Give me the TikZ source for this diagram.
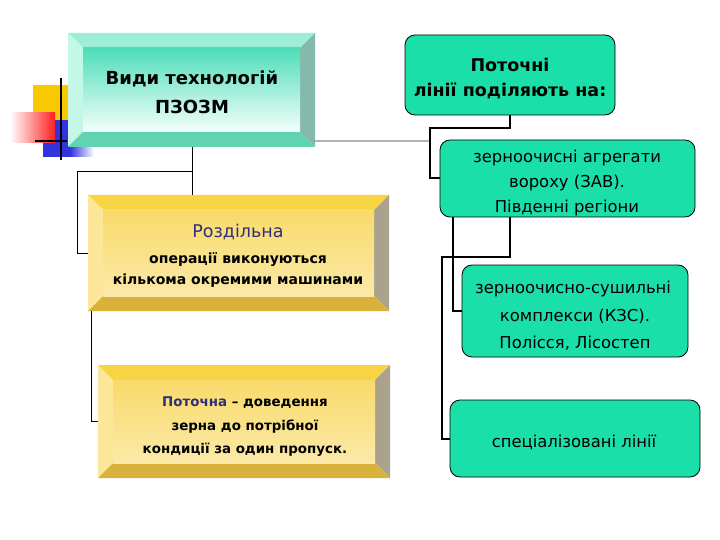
\documentclass[tikz,border=0pt]{standalone}
\usepackage{fontspec}
\setmainfont{DejaVu Sans}
\definecolor{gfill}{HTML}{1ADFA8}
\definecolor{navy}{HTML}{2E2E7A}
\definecolor{tlTop}{HTML}{9CEFD6}
\definecolor{tlLeft}{HTML}{C4F7E8}
\definecolor{tlRight}{HTML}{86B9AB}
\definecolor{tlBot}{HTML}{62D3B2}
\definecolor{tlFaceA}{HTML}{4EDDB9}
\definecolor{tlFaceM}{HTML}{D8F8EE}
\definecolor{tlFaceB}{HTML}{F4FFFB}
\definecolor{ylTop}{HTML}{F7D444}
\definecolor{ylLeft}{HTML}{FCE69A}
\definecolor{ylRight}{HTML}{ABA28E}
\definecolor{ylBot}{HTML}{D9B23C}
\definecolor{ylFaceA}{HTML}{F8DA6A}
\definecolor{ylFaceM}{HTML}{FFFDF4}
\definecolor{ylFaceB}{HTML}{FBE9A8}
\definecolor{decoYellow}{HTML}{F8C800}
\definecolor{decoRed}{HTML}{FF2020}
\definecolor{decoBlue}{HTML}{3333DD}
\newcommand\bevelbox[5]{%
 \fill[#5Top] (#1,#2) -- (#3,#2) -- (#3-15,#2+15) -- (#1+15,#2+15) -- cycle;
 \fill[#5Left] (#1,#2) -- (#1+15,#2+15) -- (#1+15,#4-15) -- (#1,#4) -- cycle;
 \fill[#5Right] (#3,#2) -- (#3,#4) -- (#3-15,#4-15) -- (#3-15,#2+15) -- cycle;
 \fill[#5Bot] (#1,#4) -- (#1+15,#4-15) -- (#3-15,#4-15) -- (#3,#4) -- cycle;
 \shade[top color=#5FaceA, middle color=#5FaceM, bottom color=#5FaceB] (#1+15,#2+15) rectangle (#3-15,#4-15);
}
\tikzset{
 gbox/.style={draw=black, line width=0.8pt, fill=gfill, rounded corners=10pt, inner sep=0},
 frame/.style={inner sep=0, draw=none},
 conL/.style={line width=1pt, black},
 conR/.style={line width=2pt, black},
 txt/.style={anchor=base, inner sep=0},
 tTitle/.style={txt, font=\fontsize{18}{20}\selectfont\bfseries},
 tBig/.style={txt, font=\fontsize{17.5}{20}\selectfont, text=navy},
 tB14/.style={txt, font=\fontsize{14}{16}\selectfont\bfseries},
 tB13/.style={txt, font=\fontsize{13.4}{16}\selectfont\bfseries},
 tReg/.style={txt, font=\fontsize{16.4}{18}\selectfont},
}
\begin{document}
\begin{tikzpicture}[x=1pt,y=-1pt]
\useasboundingbox (0,0) rectangle (720,540);
% decoration
\fill[decoYellow] (33,85) rectangle (68,120);
\fill[decoBlue] (43,120) rectangle (70,157);
\shade[left color=decoBlue, right color=white] (70,147) rectangle (94,157);
\shade[left color=white, right color=decoRed] (10,113) rectangle (55,143);
\draw[line width=2pt] (61,78) -- (61,160);
\draw[line width=2pt] (35,141) -- (67,141);
\draw[line width=2pt, gray!60] (300,141) -- (430,141);
% bevel boxes
\bevelbox{68}{33}{315}{147}{tl}
\bevelbox{88}{195}{389}{311}{yl}
\bevelbox{98}{365}{390}{478}{yl}
\node[frame, minimum width=247pt, minimum height=114pt] (top) at (191.5,90) {};
\node[frame, minimum width=301pt, minimum height=116pt] (r1) at (238.5,253) {};
\node[frame, minimum width=292pt, minimum height=113pt] (r2) at (244,421.5) {};
\node[tTitle] (topa) at (192,85) {Види технологій};
\node[tTitle] (topb) at (192,114) {ПЗОЗМ};
\node[tBig] (r1a) at (238,237) {Роздільна};
\node[tB14] (r1b) at (238,263) {операції виконуються};
\node[tB14] (r1c) at (238,284) {кількома окремими машинами};
\node[tB13] (r2a) at (245,406) {{\color{navy}Поточна} – доведення};
\node[tB13] (r2b) at (245,430) {зерна до потрібної};
\node[tB13] (r2c) at (245,453) {кондиції за один пропуск.};
% green boxes
\node[gbox, minimum width=210pt, minimum height=80pt] (P) at (510,75) {};
\node[gbox, minimum width=255pt, minimum height=77pt] (A) at (567.5,178.5) {};
\node[gbox, minimum width=226pt, minimum height=92pt] (B) at (575,311) {};
\node[gbox, minimum width=250pt, minimum height=77pt] (C) at (575,438.5) {};
\node[tTitle, font=\fontsize{17.5}{20}\selectfont\bfseries] (Pa) at (510,72) {Поточні};
\node[tTitle, font=\fontsize{17.5}{20}\selectfont\bfseries] (Pb) at (510,97) {лінії поділяють на:};
\node[tReg] (Aa) at (567,163) {зерноочисні агрегати};
\node[tReg] (Ab) at (567,188) {вороху (ЗАВ).};
\node[tReg] (Ac) at (567,213) {Південні регіони};
\node[tReg] (Ba) at (573,293) {зерноочисно-сушильні};
\node[tReg] (Bb) at (575,321) {комплекси (КЗС).};
\node[tReg] (Bc) at (575,348) {Полісся, Лісостеп};
\node[tReg] (Ca) at (574,447) {спеціалізовані лінії};
% connectors left
\coordinate (j1) at (192,172);
\draw[conL] (top.south -| j1) -- (r1.north -| j1);
\draw[conL] (j1) -| ([xshift=-10pt]r1.west) -- (r1.west);
\draw[conL] ([xshift=4pt]r1.south west) |- (r2.west);
% connectors right
\draw[conR] (P.south) |- ++(-80,13) |- (A.west);
\draw[conR] ([xshift=13pt]A.south west) |- (B.west);
\draw[conR] ([xshift=70pt]A.south west) |- ++(-68,40) |- (C.west);
\end{tikzpicture}
\end{document}
